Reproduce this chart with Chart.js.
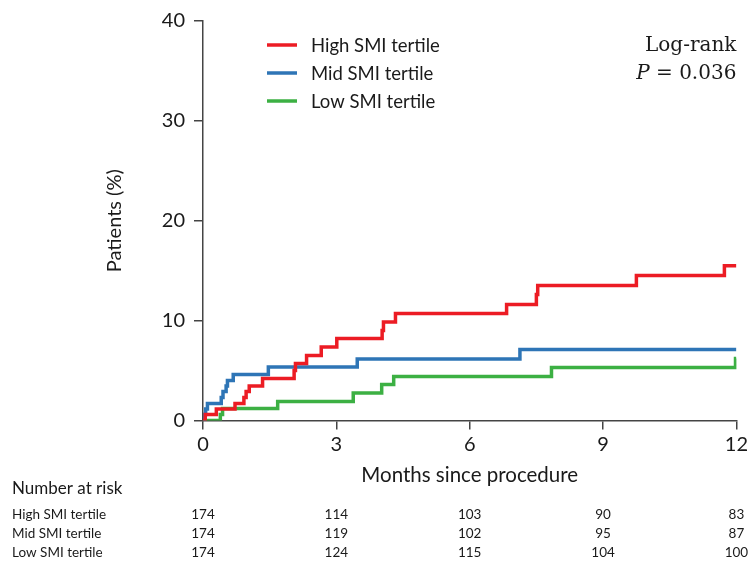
<!DOCTYPE html>
<html>
<head>
<meta charset="utf-8">
<script src="https://cdn.jsdelivr.net/npm/chart.js@4"></script>
<style>
  body { margin: 0; background: #fff; }
  canvas { display: block; }
</style>
</head>
<body>
<canvas id="km" width="751" height="562"></canvas>
<script>
// ---------- Data ----------
const highTimes = [0, 0.05, 0.30, 0.72, 0.92, 0.97, 1.04, 1.34, 2.05, 2.08, 2.33, 2.66, 3.01, 4.03, 4.06, 4.33, 6.83, 7.50, 7.53, 9.75, 11.73, 12];
const highPct   = [0, 0.6, 1.15, 1.7, 2.3, 2.9, 3.45, 4.2, 5.0, 5.7, 6.5, 7.35, 8.2, 9.0, 9.85, 10.7, 11.6, 12.6, 13.5, 14.5, 15.5, 15.5];

const midTimes = [0, 0.03, 0.06, 0.10, 0.41, 0.45, 0.52, 0.55, 0.68, 1.47, 3.47, 7.13, 12];
const midPct   = [0, 0.6, 1.15, 1.7, 2.3, 2.9, 3.45, 4.0, 4.6, 5.35, 6.15, 7.1, 7.1];

const lowTimes = [0, 0.39, 0.44, 1.68, 3.38, 4.02, 4.29, 7.84, 11.98, 12];
const lowPct   = [0, 0.6, 1.2, 1.9, 2.75, 3.6, 4.4, 5.3, 6.2, 6.2];

const groupLabels = ['High SMI tertile', 'Mid SMI tertile', 'Low SMI tertile'];
const groupColors = ['#ec1c24', '#2e75b6', '#3cb043'];

// number at risk table
const riskTimes = [0, 3, 6, 9, 12];
const riskHigh = [174, 114, 103, 90, 83];
const riskMid  = [174, 119, 102, 95, 87];
const riskLow  = [174, 124, 115, 104, 100];

const toPoints = (ts, vs) => ts.map((t, i) => ({ x: t, y: vs[i] }));

// ---------- Legend, log-rank note and risk table ----------
const extras = {
  id: 'extras',
  afterDraw(chart) {
    const ctx = chart.ctx;
    const area = chart.chartArea;
    const xs = chart.scales.x;
    ctx.save();

    // legend
    ctx.textBaseline = 'middle';
    chart.data.datasets.forEach((ds, i) => {
      const y = 45 + i * 28;
      ctx.strokeStyle = ds.borderColor;
      ctx.lineWidth = 3.5;
      ctx.beginPath();
      ctx.moveTo(area.left + 64, y);
      ctx.lineTo(area.left + 94, y);
      ctx.stroke();
      ctx.fillStyle = '#1a1a1a';
      ctx.font = '18.5px Lato';
      ctx.textAlign = 'left';
      ctx.fillText(ds.label, area.left + 108, y + 1);
    });

    // log-rank
    ctx.font = '20px "DejaVu Serif"';
    ctx.textAlign = 'right';
    ctx.fillText('Log-rank', area.right, 46);
    const rest = ' = 0.036';
    ctx.fillText(rest, area.right, 74);
    const w = ctx.measureText(rest).width;
    ctx.font = 'italic 20px "DejaVu Serif"';
    ctx.fillText('P', area.right - w, 74);

    // number at risk
    ctx.font = '17px Lato';
    ctx.textAlign = 'left';
    ctx.fillText('Number at risk', 12, 489);
    const rows = [riskHigh, riskMid, riskLow];
    ctx.font = '13.5px Lato';
    rows.forEach((row, r) => {
      const y = 515 + r * 19;
      ctx.textAlign = 'left';
      ctx.fillText(groupLabels[r], 12, y);
      ctx.textAlign = 'center';
      row.forEach((n, i) => ctx.fillText(String(n), xs.getPixelForValue(riskTimes[i]), y));
    });
    ctx.restore();
  }
};

new Chart(document.getElementById('km'), {
  type: 'line',
  data: {
    datasets: [
      { label: groupLabels[0], data: toPoints(highTimes, highPct), borderColor: groupColors[0] },
      { label: groupLabels[1], data: toPoints(midTimes, midPct), borderColor: groupColors[1] },
      { label: groupLabels[2], data: toPoints(lowTimes, lowPct), borderColor: groupColors[2] }
    ]
  },
  options: {
    responsive: false,
    animation: false,
    devicePixelRatio: 1,
    datasets: {
      line: { stepped: 'before', borderWidth: 3.5, pointRadius: 0, tension: 0, fill: false }
    },
    layout: { padding: { left: 90, right: 13, top: 21, bottom: 74 } },
    plugins: { legend: { display: false }, tooltip: { enabled: false } },
    scales: {
      x: {
        type: 'linear',
        min: 0, max: 12,
        ticks: { stepSize: 3, color: '#1a1a1a', font: { family: 'Lato', size: 20 }, padding: 3 },
        grid: { drawOnChartArea: false, tickLength: 9, color: '#444', lineWidth: 1.5 },
        border: { color: '#444', width: 1.5 },
        title: { display: true, text: 'Months since procedure', color: '#1a1a1a',
                 font: { family: 'Lato', size: 20.5 }, padding: { top: 4, bottom: 0 } }
      },
      y: {
        min: 0, max: 40,
        afterFit: (s) => { s.width = 113; },
        ticks: { stepSize: 10, color: '#1a1a1a', font: { family: 'Lato', size: 20 }, padding: 9 },
        grid: { drawOnChartArea: false, tickLength: 9, color: '#444', lineWidth: 1.5 },
        border: { color: '#444', width: 1.5 },
        title: { display: true, text: 'Patients (%)', color: '#1a1a1a',
                 font: { family: 'Lato', size: 20 }, padding: { top: 13, bottom: 0 } }
      }
    }
  },
  plugins: [extras]
});
</script>
</body>
</html>
